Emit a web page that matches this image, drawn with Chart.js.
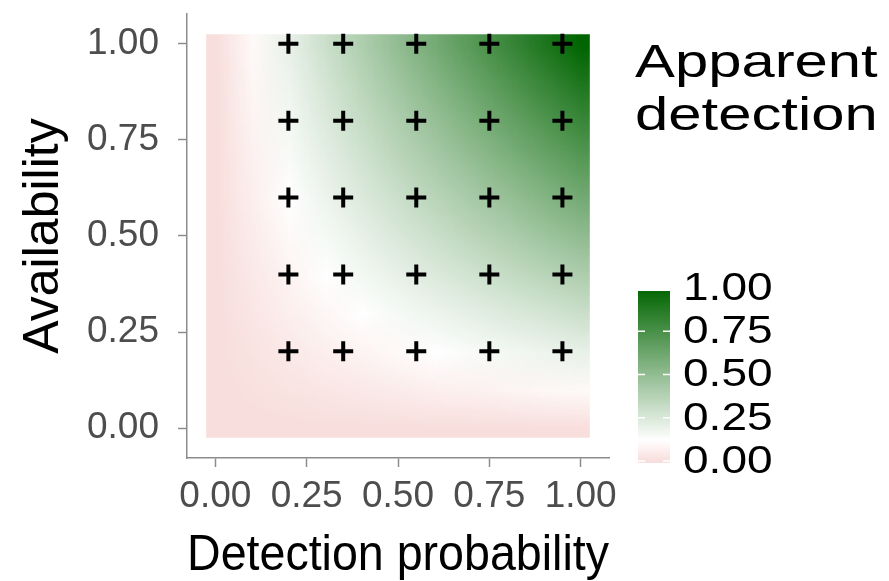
<!DOCTYPE html>
<html>
<head>
<meta charset="utf-8">
<script src="https://cdn.jsdelivr.net/npm/chart.js@4/dist/chart.umd.min.js"></script>
<style>
  html, body { margin: 0; padding: 0; background: #fff; }
  #wrap { width: 889px; height: 581px; }
</style>
</head>
<body>
<div id="wrap"><canvas id="chart" width="889" height="581"></canvas></div>
<script>
// grid of the raster (detection probability = columns, availability = rows)
const gridSteps = [0, 0.1, 0.2, 0.3, 0.4, 0.5, 0.6, 0.7, 0.8, 0.9, 1.0];
// apparent detection, one row per availability step
const apparentDetection = [
  [0, 0.00, 0.00, 0.00, 0.00, 0.00, 0.00, 0.00, 0.00, 0.00, 0.00],
  [0, 0.01, 0.02, 0.03, 0.04, 0.05, 0.06, 0.07, 0.08, 0.09, 0.10],
  [0, 0.02, 0.04, 0.06, 0.08, 0.10, 0.12, 0.14, 0.16, 0.18, 0.20],
  [0, 0.03, 0.06, 0.09, 0.12, 0.15, 0.18, 0.21, 0.24, 0.27, 0.30],
  [0, 0.04, 0.08, 0.12, 0.16, 0.20, 0.24, 0.28, 0.32, 0.36, 0.40],
  [0, 0.05, 0.10, 0.15, 0.20, 0.25, 0.30, 0.35, 0.40, 0.45, 0.50],
  [0, 0.06, 0.12, 0.18, 0.24, 0.30, 0.36, 0.42, 0.48, 0.54, 0.60],
  [0, 0.07, 0.14, 0.21, 0.28, 0.35, 0.42, 0.49, 0.56, 0.63, 0.70],
  [0, 0.08, 0.16, 0.24, 0.32, 0.40, 0.48, 0.56, 0.64, 0.72, 0.80],
  [0, 0.09, 0.18, 0.27, 0.36, 0.45, 0.54, 0.63, 0.72, 0.81, 0.90],
  [0, 0.10, 0.20, 0.30, 0.40, 0.50, 0.60, 0.70, 0.80, 0.90, 1.00]
];
// the "+" design points
const surveyDetection = [0.2, 0.35, 0.55, 0.75, 0.95];
const surveyAvailability = [0.2, 0.4, 0.6, 0.8, 1.0];
const axisTicks = [0, 0.25, 0.5, 0.75, 1];
const legendTicks = [0, 0.25, 0.5, 0.75, 1];

const FONT = "'Liberation Sans', Arial, Helvetica, sans-serif";
Chart.defaults.font.family = FONT;

// pale pink -> white -> dark green
const colourStops = [
  [0, [248, 222, 220]],
  [0.12, [255, 255, 255]],
  [1, [0, 100, 0]]
];
function fillColour(v) {
  for (let i = 1; i < colourStops.length; i++) {
    const [v1, c1] = colourStops[i];
    const [v0, c0] = colourStops[i - 1];
    if (v <= v1 || i === colourStops.length - 1) {
      const t = Math.max(0, Math.min(1, (v - v0) / (v1 - v0)));
      return c0.map((c, k) => Math.round(c + (c1[k] - c) * t));
    }
  }
}

const heatmapPlugin = {
  id: 'heatmap',
  beforeDatasetsDraw(chart) {
    const {ctx, scales: {x, y}} = chart;
    const n = gridSteps.length;
    const off = document.createElement('canvas');
    off.width = n; off.height = n;
    const octx = off.getContext('2d');
    const img = octx.createImageData(n, n);
    apparentDetection.forEach((row, i) => {
      row.forEach((v, j) => {
        const c = fillColour(v);
        const k = ((n - 1 - i) * n + j) * 4;
        img.data[k] = c[0]; img.data[k + 1] = c[1]; img.data[k + 2] = c[2]; img.data[k + 3] = 255;
      });
    });
    octx.putImageData(img, 0, 0);
    const half = (gridSteps[1] - gridSteps[0]) / 2;
    const x0 = x.getPixelForValue(gridSteps[0] - half);
    const x1 = x.getPixelForValue(gridSteps[n - 1] + half);
    const y0 = y.getPixelForValue(gridSteps[n - 1] + half);
    const y1 = y.getPixelForValue(gridSteps[0] - half);
    // raster cells in the picture are 0.05 wide, so it ends at +-0.025
    const cx0 = x.getPixelForValue(-0.025), cx1 = x.getPixelForValue(1.025);
    const cy0 = y.getPixelForValue(1.025), cy1 = y.getPixelForValue(-0.025);
    ctx.save();
    ctx.beginPath();
    ctx.rect(cx0, cy0, cx1 - cx0, cy1 - cy0);
    ctx.clip();
    ctx.imageSmoothingEnabled = true;
    ctx.drawImage(off, x0, y0, x1 - x0, y1 - y0);
    ctx.restore();
  }
};

const legendPlugin = {
  id: 'colourbar',
  afterDraw(chart) {
    const ctx = chart.ctx;
    ctx.save();
    ctx.fillStyle = '#000';
    ctx.textBaseline = 'alphabetic';
    ctx.textAlign = 'left';
    ctx.font = '46px ' + FONT;
    [['Apparent', 77], ['detection', 130]].forEach(([t, base]) => {
      ctx.save();
      ctx.translate(635, base);
      ctx.scale(1.3, 1);
      ctx.fillText(t, 0, 0);
      ctx.restore();
    });

    const bx = 638, bw = 32, bTop = 291, bBot = 463;
    const zeroY = 461, span = 173;
    const grad = ctx.createLinearGradient(0, zeroY, 0, zeroY - span);
    for (let s = 0; s <= 50; s++) {
      const c = fillColour(s / 50);
      grad.addColorStop(s / 50, `rgb(${c[0]},${c[1]},${c[2]})`);
    }
    ctx.fillStyle = grad;
    ctx.fillRect(bx, bTop, bw, bBot - bTop);

    ctx.strokeStyle = '#fff';
    ctx.lineWidth = 1.5;
    ctx.font = '39px ' + FONT;
    ctx.textBaseline = 'middle';
    legendTicks.forEach(v => {
      const ty = zeroY - v * span;
      if (ty >= bTop) {
        ctx.beginPath();
        ctx.moveTo(bx, ty); ctx.lineTo(bx + 7, ty);
        ctx.moveTo(bx + bw - 7, ty); ctx.lineTo(bx + bw, ty);
        ctx.stroke();
      }
      ctx.save();
      ctx.translate(683, ty + 1);
      ctx.scale(1.18, 1);
      ctx.fillStyle = '#000';
      ctx.fillText(v.toFixed(2), 0, 0);
      ctx.restore();
    });
    ctx.restore();
  }
};

const points = surveyAvailability.flatMap(a => surveyDetection.map(p => ({x: p, y: a})));

const axisGrey = '#8c8c8c';
function axisOptions(titleText, isX) {
  return {
    type: 'linear',
    min: -0.0775,
    max: 1.0775,
    afterBuildTicks: s => { s.ticks = axisTicks.map(v => ({value: v})); },
    afterFit: s => {
      if (isX) s.height = 123; else s.width = 187;
      // keep the plot box where it is in the picture
      s.paddingTop = 0; s.paddingBottom = 0; s.paddingLeft = 0; s.paddingRight = 0;
    },
    ticks: {
      callback: v => Number(v).toFixed(2),
      color: '#4d4d4d',
      font: {size: 37, lineHeight: 1.2},
      padding: isX ? 8 : 19,
      maxRotation: 0,
      autoSkip: false
    },
    grid: {display: true, drawOnChartArea: false, tickLength: 9, color: axisGrey, tickWidth: 1.5},
    border: {display: true, color: axisGrey, width: 1.5},
    title: {
      display: true,
      text: titleText,
      color: '#000',
      font: {size: 50, lineHeight: 1},
      padding: isX ? {top: 0, bottom: 0} : {top: 19, bottom: 0}
    }
  };
}

new Chart(document.getElementById('chart'), {
  type: 'scatter',
  data: {
    datasets: [{
      data: points,
      pointStyle: 'cross',
      pointRadius: 10,
      pointBorderWidth: 4,
      borderColor: '#000',
      backgroundColor: '#000'
    }]
  },
  options: {
    responsive: false,
    devicePixelRatio: 1,
    animation: false,
    events: [],
    layout: {padding: {top: 13, right: 280, bottom: 0, left: 0}},
    plugins: {legend: {display: false}, tooltip: {enabled: false}},
    scales: {
      x: axisOptions('Detection probability', true),
      y: axisOptions('Availability', false)
    }
  },
  plugins: [heatmapPlugin, legendPlugin]
});
</script>
</body>
</html>
